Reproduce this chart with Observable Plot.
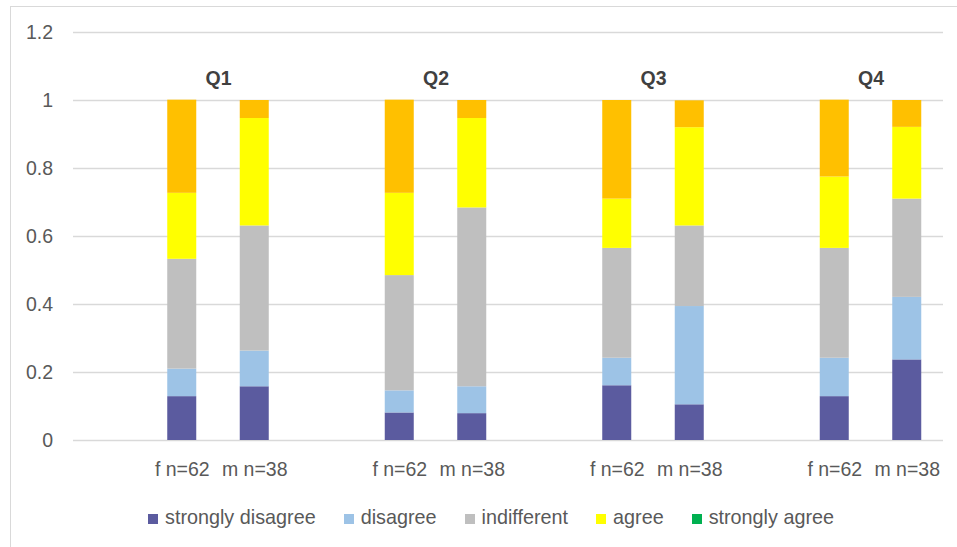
<!DOCTYPE html>
<html>
<head>
<meta charset="utf-8">
<script src="https://cdn.jsdelivr.net/npm/d3@7"></script>
<script src="https://cdn.jsdelivr.net/npm/@observablehq/plot@0.6"></script>
<style>
  body { margin: 0; background: #fff; }
  #chart { position: relative; width: 957px; height: 547px; overflow: hidden;
           font-family: "Liberation Sans", Arial, sans-serif; }
  #frame { position: absolute; left: 9.5px; top: 5.5px; width: 1000px; height: 600px;
           border-top: 1px solid #d9d9d9; border-left: 1px solid #d9d9d9; box-sizing: border-box; }
  #plot { position: absolute; left: 0; top: 0; }
  #legend { position: absolute; left: 148px; top: 505px; height: 24px; display: flex;
            align-items: center; gap: 28px; font-size: 19.8px; color: #595959; white-space: nowrap; }
  .item { display: flex; align-items: center; }
  .sw { width: 10px; height: 10px; margin-right: 7px; margin-top: 3px; }
</style>
</head>
<body>
<div id="chart">
  <div id="frame"></div>
  <div id="plot"></div>
  <div id="legend"></div>
</div>
<script>
// Questions and respondent groups (bars per question)
const questions = ["Q1", "Q2", "Q3", "Q4"];
const groups = ["f n=62", "m n=38"];

// Answer levels shown in the legend, plus the top segment without a legend entry
const levels = ["strongly disagree", "disagree", "indifferent", "agree", "strongly agree", "other"];
const legendLevels = ["strongly disagree", "disagree", "indifferent", "agree", "strongly agree"];
const colors = ["#5b5b9f", "#9dc3e6", "#bfbfbf", "#ffff00", "#00b050", "#ffc000"];

// Shares per bar, in order Q1 f, Q1 m, Q2 f, Q2 m, Q3 f, Q3 m, Q4 f, Q4 m
const stronglyDisagree = [0.129, 0.158, 0.081, 0.079, 0.161, 0.105, 0.129, 0.237];
const disagree         = [0.081, 0.105, 0.065, 0.079, 0.081, 0.289, 0.113, 0.184];
const indifferent      = [0.323, 0.368, 0.339, 0.526, 0.323, 0.237, 0.323, 0.289];
const agree            = [0.194, 0.316, 0.242, 0.263, 0.145, 0.289, 0.210, 0.211];
const stronglyAgree    = [0, 0, 0, 0, 0, 0, 0, 0];
const other            = [0.274, 0.053, 0.274, 0.053, 0.290, 0.079, 0.226, 0.079];

const yTicks = [0, 0.2, 0.4, 0.6, 0.8, 1, 1.2];

const series = [stronglyDisagree, disagree, indifferent, agree, stronglyAgree, other];

// Each question gets three category slots: an empty one, then f and m
const slots = questions.flatMap(q => [q + "|", ...groups.map(g => q + "|" + g)]);

const rows = [];
questions.forEach((q, qi) => {
  groups.forEach((g, gi) => {
    const bar = qi * groups.length + gi;
    levels.forEach((lvl, li) => {
      rows.push({slot: q + "|" + g, level: lvl, value: series[li][bar]});
    });
  });
});

const width = 957, height = 490;
const marginLeft = 73, marginRight = 14;
const step = (width - marginLeft - marginRight) / slots.length;

const chart = Plot.plot({
  width, height,
  marginTop: 32, marginBottom: 50, marginLeft, marginRight,
  style: { fontFamily: "Liberation Sans, Arial, sans-serif", fontSize: "19.5px", color: "#595959", background: "transparent" },
  x: { domain: slots, paddingInner: 0.6, paddingOuter: 0.3, align: 0.5, round: false, axis: null },
  y: { domain: [0, 1.2], axis: null },
  color: { domain: levels, range: colors },
  marks: [
    Plot.ruleY(yTicks, { stroke: "#d9d9d9", strokeWidth: 1.3 }),
    Plot.barY(rows, { x: "slot", y: "value", fill: "level" }),
    Plot.axisY({ ticks: yTicks, tickSize: 0, tickPadding: 20.5, tickFormat: d => String(+d.toFixed(1)), label: null, fill: "#595959" }),
    Plot.axisX({ tickSize: 0, tickPadding: 22, tickFormat: d => d.split("|")[1], label: null, fill: "#595959" }),
    Plot.text(questions, { x: q => q + "|" + groups[0], y: () => 1.065, dx: step / 2, text: d => d,
                           fontWeight: "bold", fill: "#404040", fontSize: 19.5 })
  ]
});
document.getElementById("plot").appendChild(chart);

// Legend
const legend = document.getElementById("legend");
legendLevels.forEach(lvl => {
  const item = document.createElement("div");
  item.className = "item";
  const sw = document.createElement("span");
  sw.className = "sw";
  sw.style.background = colors[levels.indexOf(lvl)];
  const label = document.createElement("span");
  label.textContent = lvl;
  item.appendChild(sw);
  item.appendChild(label);
  legend.appendChild(item);
});
</script>
</body>
</html>
